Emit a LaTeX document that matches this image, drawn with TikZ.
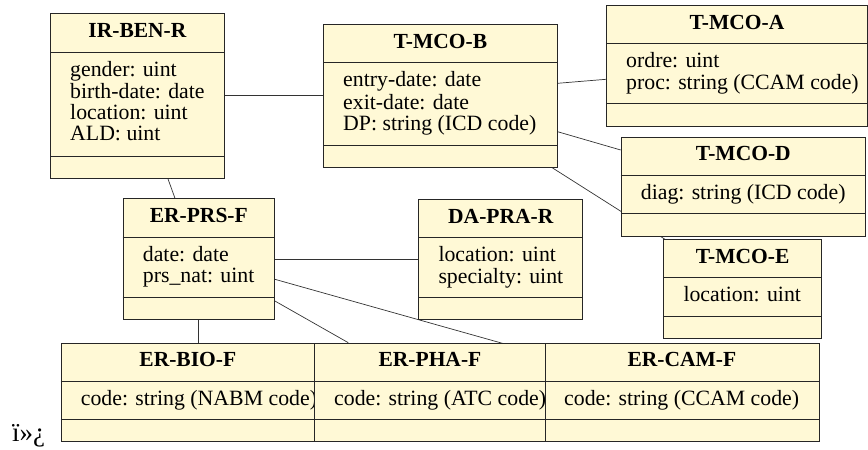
\documentclass[tikz,border=0pt]{standalone}
\usepackage{fontspec}
\setmainfont{Liberation Serif}
\usepackage{tikz}
\usetikzlibrary{backgrounds}
\definecolor{classfill}{HTML}{FFF9D6}
\tikzstyle{classbox} = [rectangle, draw=black!85, fill=classfill, anchor=north west, inner sep=0pt, line width=0.9pt]
\tikzstyle{divider} = [draw=black!85, line width=0.9pt]
\tikzstyle{classname} = [font=\fontsize{21.5}{21}\selectfont\bfseries, inner sep=0pt]
\tikzstyle{attrlist} = [font=\fontsize{21.8}{21}\selectfont, align=left, inner sep=0pt, anchor=north west]
\tikzstyle{assoc} = [draw=black!80, line width=0.7pt]
% name, left, top, width, height, title height, attribute height, title, attributes
\newcommand{\umlclass}[9]{%
  \node (#1) [classbox, minimum width=#4pt, minimum height=#5pt] at (#2,#3) {};
  \draw [divider] ([yshift=-#6pt]#1.north west) -- ([yshift=-#6pt]#1.north east);
  \draw [divider] ([yshift=-#6pt-#7pt]#1.north west) -- ([yshift=-#6pt-#7pt]#1.north east);
  \node [classname, anchor=base] at ([yshift=-24pt]#1.north) {#8};
  \node [attrlist] at ([xshift=20pt, yshift=-#6pt-8.8pt]#1.north west) {#9};
}

\begin{document}
\begin{tikzpicture}[x=1pt, y=-1pt]
    \useasboundingbox (0,0) rectangle (868,450);

    \umlclass{benr}{50}{13.3}{174}{164.7}{38.7}{104}{IR-BEN-R}{\strut gender: uint\\birth-date: date\\location: uint\\ALD: uint}
    \umlclass{mcob}{323}{24.3}{233.7}{142.4}{38.4}{82.3}{T-MCO-B}{\strut entry-date: date\\exit-date: date\\DP: string (ICD code)}
    \umlclass{mcoa}{606}{5}{261}{121}{38.3}{60}{T-MCO-A}{\strut ordre: uint\\proc: string (CCAM code)}
    \umlclass{mcod}{620.7}{136.7}{244.3}{99}{38.3}{38}{T-MCO-D}{\strut diag: string (ICD code)}
    \umlclass{mcoe}{663.3}{239.3}{157.7}{99}{38.4}{38.3}{T-MCO-E}{\strut location: uint}
    \umlclass{prsf}{122.7}{198.3}{151.3}{121}{39}{60.4}{ER-PRS-F}{\strut date: date\\prs\_nat: uint}
    \umlclass{prar}{418.3}{199}{164}{120.3}{38.3}{60.4}{DA-PRA-R}{\strut location: uint\\specialty: uint}
    \umlclass{biof}{60.7}{342.7}{253.3}{98}{39}{37.6}{ER-BIO-F}{\strut code: string (NABM code)}
    \umlclass{camf}{544}{342.7}{275}{98}{39}{37.6}{ER-CAM-F}{\strut code: string (CCAM code)}
    \umlclass{phaf}{314}{342.7}{231}{98}{39}{37.6}{ER-PHA-F}{\strut code: string (ATC code)}

    \node (bom) [font=\fontsize{27}{27}\selectfont, anchor=base west, inner sep=0pt] at (12,441) {ï»¿};

    \begin{scope}[on background layer]
        \draw [assoc] (benr.east |- 0,95.7) -- (mcob.west |- 0,95.7);
        \draw [assoc] (benr.south -| 168,0) -- (prsf.north -| 175,0);
        \draw [assoc] (mcob.east |- 0,83.3) -- (mcoa.west |- 0,79.3);
        \draw [assoc] (mcob.east |- 0,131.7) -- (mcod.west |- 0,150);
        \draw [assoc] (mcob.south -| 552,0) -- (mcoe.north -| 665,0);
        \draw [assoc] (prsf.east |- 0,259.3) -- (prar.west |- 0,259.3);
        \draw [assoc] (prsf.south -| 198.3,0) -- (biof.north -| 198.3,0);
        \draw [assoc] (prsf.east |- 0,301) -- (phaf.north -| 348.3,0);
        \draw [assoc] (prsf.east |- 0,279.3) -- (camf.west |- 0,355);
    \end{scope}
\end{tikzpicture}
\end{document}
